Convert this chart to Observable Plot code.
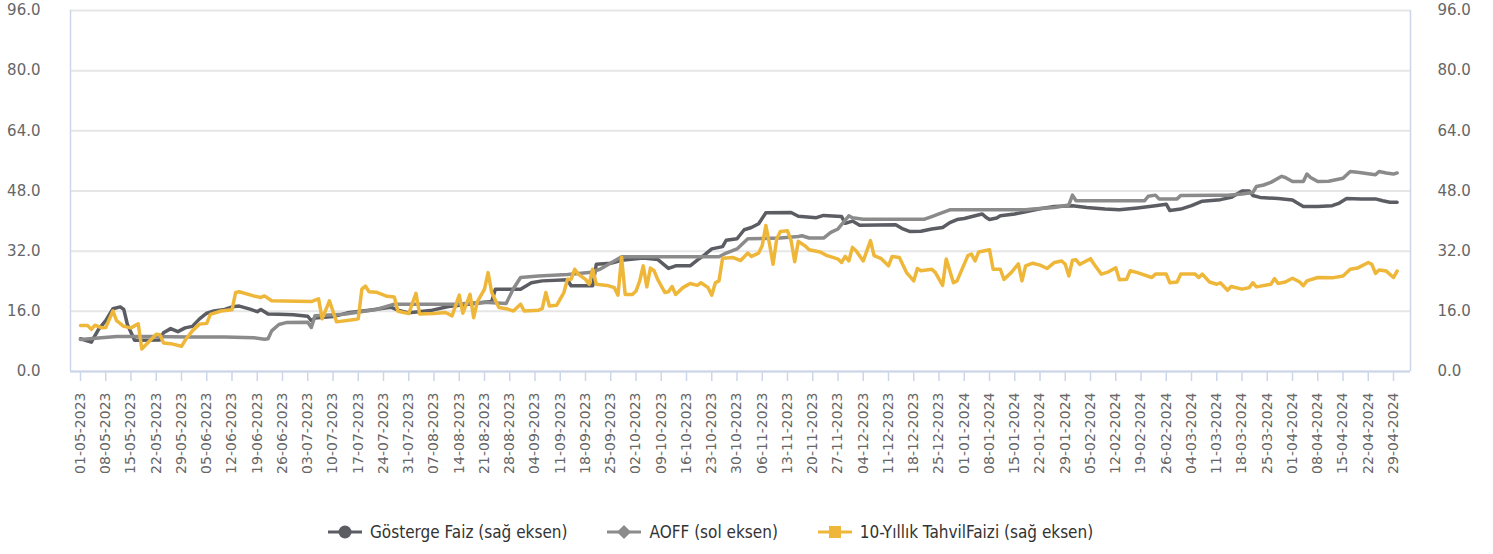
<!DOCTYPE html>
<html>
<head>
<meta charset="utf-8">
<script src="https://cdn.jsdelivr.net/npm/d3@7"></script>
<script src="https://cdn.jsdelivr.net/npm/@observablehq/plot@0.6"></script>
<style>
  html, body { margin: 0; padding: 0; background: #fff; }
  #legend { height: 44px; display: flex; align-items: center; padding-left: 328px;
            font-family: "DejaVu Sans Condensed", "DejaVu Sans", sans-serif; font-size: 17px; color: #333; }
  .item { display: flex; align-items: center; margin-right: 40px; white-space: nowrap; }
  .item svg { margin-right: 8px; }
</style>
</head>
<body>
<div id="chart"></div>
<div id="legend"></div>
<script>
// ---- Series names & colours ----
const seriesNames = ["Gösterge Faiz (sağ eksen)", "AOFF (sol eksen)", "10-Yıllık TahvilFaizi (sağ eksen)"];
const seriesColors = ["#5b5d63", "#8b8b8b", "#efb73a"];
const seriesSymbols = ["circle", "diamond", "square"];

// ---- Y tick labels ----
const yTicks = [0, 16, 32, 48, 64, 80, 96];

// ---- Gösterge Faiz (date, value) ----
const gostergeFaiz = [
  ["2023-05-01",8.7],["2023-05-04",7.8],["2023-05-06",11.2],["2023-05-08",13.5],["2023-05-10",16.7],
  ["2023-05-12",17.2],["2023-05-13",16.5],["2023-05-14",12.5],["2023-05-16",8.3],["2023-05-23",8.4],
  ["2023-05-24",10.3],["2023-05-26",11.4],["2023-05-28",10.6],["2023-05-30",11.6],["2023-06-01",12],
  ["2023-06-03",14],["2023-06-05",15.5],["2023-06-07",16.1],["2023-06-10",16.5],["2023-06-12",17.2],
  ["2023-06-14",17.4],["2023-06-17",16.6],["2023-06-19",15.9],["2023-06-20",16.5],["2023-06-22",15.3],
  ["2023-06-25",15.2],["2023-06-29",15.1],["2023-07-03",14.7],["2023-07-04",13.5],["2023-07-05",14.2],
  ["2023-07-10",14.6],["2023-07-14",15.6],["2023-07-20",16.3],["2023-07-26",17.1],["2023-07-28",16.3],
  ["2023-07-31",15.6],["2023-08-06",16.2],["2023-08-11",17.3],["2023-08-23",18.6],["2023-08-24",21.9],
  ["2023-08-31",21.9],["2023-09-03",23.6],["2023-09-06",24.1],["2023-09-13",24.4],["2023-09-14",22.8],
  ["2023-09-20",22.8],["2023-09-21",28.5],["2023-09-25",28.8],["2023-09-28",29.6],["2023-10-04",30.2],
  ["2023-10-08",29.8],["2023-10-11",27.4],["2023-10-13",28.1],["2023-10-17",28.1],["2023-10-19",29.6],
  ["2023-10-21",31],["2023-10-23",32.6],["2023-10-26",33.2],["2023-10-27",34.9],["2023-10-30",35.3],
  ["2023-11-01",37.7],["2023-11-03",38.3],["2023-11-05",39.3],["2023-11-07",42.2],["2023-11-14",42.3],
  ["2023-11-16",41.3],["2023-11-21",40.9],["2023-11-23",41.5],["2023-11-28",41.2],["2023-11-29",39.4],
  ["2023-12-01",40],["2023-12-03",38.9],["2023-12-13",39],["2023-12-15",37.9],["2023-12-17",37.2],
  ["2023-12-20",37.3],["2023-12-23",37.9],["2023-12-26",38.3],["2023-12-28",39.6],["2023-12-30",40.4],
  ["2024-01-01",40.7],["2024-01-04",41.4],["2024-01-06",41.9],["2024-01-07",41],["2024-01-08",40.4],
  ["2024-01-10",40.8],["2024-01-11",41.4],["2024-01-15",41.9],["2024-01-18",42.5],["2024-01-22",43.3],
  ["2024-01-26",43.9],["2024-01-31",44.1],["2024-02-04",43.6],["2024-02-09",43.2],["2024-02-13",43],
  ["2024-02-18",43.5],["2024-02-23",44.1],["2024-02-26",44.5],["2024-02-27",42.8],["2024-03-01",43.2],
  ["2024-03-04",44.1],["2024-03-07",45.3],["2024-03-12",45.7],["2024-03-15",46.3],["2024-03-18",48],
  ["2024-03-20",48],["2024-03-21",46.8],["2024-03-23",46.3],["2024-03-28",46],["2024-04-01",45.6],
  ["2024-04-02",45],["2024-04-04",43.9],["2024-04-08",43.9],["2024-04-12",44.1],["2024-04-14",44.8],
  ["2024-04-16",46],["2024-04-20",45.9],["2024-04-24",45.9],["2024-04-26",45.4],["2024-04-28",45],
  ["2024-04-30",45]
];

// ---- AOFF (date, value) ----
const aoff = [
  ["2023-05-01",8.5],["2023-05-06",8.9],["2023-05-11",9.3],["2023-05-21",9.3],["2023-05-31",9.2],
  ["2023-06-10",9.2],["2023-06-18",9.0],["2023-06-21",8.6],["2023-06-22",8.7],["2023-06-23",10.8],
  ["2023-06-25",12.5],["2023-06-27",13],["2023-07-03",13.1],["2023-07-04",11.7],["2023-07-05",14.8],
  ["2023-07-13",15.2],["2023-07-22",16.5],["2023-07-27",17.9],["2023-08-13",17.9],["2023-08-21",18.4],
  ["2023-08-27",18.1],["2023-08-29",22],["2023-08-31",25],["2023-09-05",25.4],["2023-09-13",25.8],
  ["2023-09-19",26.3],["2023-09-22",27.2],["2023-09-26",29.4],["2023-09-28",30.5],["2023-10-25",30.5],
  ["2023-10-27",31.5],["2023-10-30",32.6],["2023-11-02",35.3],["2023-11-11",35.5],["2023-11-16",35.9],
  ["2023-11-17",36.1],["2023-11-19",35.5],["2023-11-23",35.5],["2023-11-25",37],["2023-11-27",37.9],
  ["2023-11-30",41.4],["2023-12-01",40.9],["2023-12-04",40.5],["2023-12-21",40.5],["2023-12-23",41.2],
  ["2023-12-25",41.9],["2023-12-28",43],["2024-01-18",43],["2024-01-20",43.2],["2024-01-26",43.6],
  ["2024-01-30",44.3],["2024-01-31",46.9],["2024-02-01",45.4],["2024-02-20",45.4],["2024-02-21",46.6],
  ["2024-02-23",46.9],["2024-02-24",45.9],["2024-02-29",45.9],["2024-03-01",46.8],["2024-03-11",46.9],
  ["2024-03-14",46.9],["2024-03-18",47.2],["2024-03-21",47.6],["2024-03-22",49.2],["2024-03-24",49.6],
  ["2024-03-26",50.3],["2024-03-29",51.9],["2024-03-30",51.6],["2024-04-01",50.5],["2024-04-04",50.5],
  ["2024-04-05",52.5],["2024-04-06",51.6],["2024-04-08",50.5],["2024-04-11",50.6],["2024-04-15",51.4],
  ["2024-04-17",53.2],["2024-04-19",53],["2024-04-24",52.3],["2024-04-25",53.2],["2024-04-27",52.8],
  ["2024-04-29",52.5],["2024-04-30",52.8]
];

// ---- 10-Yıllık Tahvil Faizi (date, value) ----
const tahvilFaizi = [
  ["2023-05-01",12.2],["2023-05-03",12.2],["2023-05-04",11.2],["2023-05-05",12.3],["2023-05-07",11.6],
  ["2023-05-08",11.7],["2023-05-10",16.1],["2023-05-11",13.5],["2023-05-13",12],["2023-05-15",11.6],
  ["2023-05-17",12.7],["2023-05-18",6],["2023-05-20",8],["2023-05-22",9.9],["2023-05-23",9.8],
  ["2023-05-24",7.6],["2023-05-26",7.4],["2023-05-29",6.7],["2023-05-30",8.3],["2023-06-01",10.8],
  ["2023-06-03",12.6],["2023-06-05",12.8],["2023-06-06",15.2],["2023-06-09",16.1],["2023-06-12",16.4],
  ["2023-06-13",21],["2023-06-14",21.2],["2023-06-18",20.1],["2023-06-20",19.7],["2023-06-21",20.1],
  ["2023-06-23",18.8],["2023-06-30",18.7],["2023-07-04",18.6],["2023-07-06",19.3],["2023-07-07",14],
  ["2023-07-09",18.8],["2023-07-11",13.2],["2023-07-16",13.8],["2023-07-17",14],["2023-07-18",21.9],
  ["2023-07-19",22.7],["2023-07-20",21.2],["2023-07-22",21.1],["2023-07-25",20],["2023-07-27",19.8],
  ["2023-07-28",16],["2023-07-31",15.4],["2023-08-02",20.8],["2023-08-03",15.3],["2023-08-07",15.4],
  ["2023-08-10",15.7],["2023-08-11",15.3],["2023-08-12",14.8],["2023-08-14",20.3],["2023-08-15",15.5],
  ["2023-08-17",20.5],["2023-08-18",14.3],["2023-08-19",18.5],["2023-08-21",21.9],["2023-08-22",26.3],
  ["2023-08-23",21],["2023-08-25",17],["2023-08-27",16.7],["2023-08-29",16.1],["2023-08-31",17.9],
  ["2023-09-01",16.1],["2023-09-05",16.3],["2023-09-06",16.7],["2023-09-07",21],["2023-09-08",17.4],
  ["2023-09-10",17.6],["2023-09-12",21],["2023-09-13",24.5],["2023-09-14",24.5],["2023-09-15",27.2],
  ["2023-09-16",25.9],["2023-09-18",24.5],["2023-09-19",23.2],["2023-09-20",27.2],["2023-09-21",23.2],
  ["2023-09-24",22.9],["2023-09-26",22.3],["2023-09-27",20.3],["2023-09-28",30.4],["2023-09-29",20.5],
  ["2023-10-01",20.5],["2023-10-02",21.4],["2023-10-03",24],["2023-10-04",28.1],["2023-10-05",22.5],
  ["2023-10-06",27.5],["2023-10-07",26.8],["2023-10-08",24.5],["2023-10-10",21],["2023-10-11",21.2],
  ["2023-10-12",22.6],["2023-10-13",20.5],["2023-10-15",22.3],["2023-10-17",23.4],["2023-10-19",22.9],
  ["2023-10-20",23.6],["2023-10-22",22.3],["2023-10-23",20.3],["2023-10-24",23.6],["2023-10-25",24.1],
  ["2023-10-26",30.1],["2023-10-29",30.3],["2023-10-31",29.5],["2023-11-02",31.5],["2023-11-03",30.6],
  ["2023-11-05",31.5],["2023-11-06",33.5],["2023-11-07",38.8],["2023-11-08",34],["2023-11-09",28.5],
  ["2023-11-10",35.2],["2023-11-11",37.2],["2023-11-13",37.4],["2023-11-14",34.8],["2023-11-15",29.2],
  ["2023-11-16",34.6],["2023-11-18",33.3],["2023-11-19",32.4],["2023-11-22",31.8],["2023-11-24",30.8],
  ["2023-11-26",30.2],["2023-11-27",29.9],["2023-11-28",29],["2023-11-29",30.6],["2023-11-30",29.4],
  ["2023-12-01",33],["2023-12-02",32.1],["2023-12-04",29.4],["2023-12-06",34.8],["2023-12-07",30.8],
  ["2023-12-09",30],["2023-12-11",28.1],["2023-12-12",30.6],["2023-12-14",30.3],["2023-12-16",26.3],
  ["2023-12-18",24.1],["2023-12-19",27.4],["2023-12-20",26.8],["2023-12-23",27.2],["2023-12-24",26.3],
  ["2023-12-26",22.9],["2023-12-27",29.9],["2023-12-29",23.6],["2023-12-30",24.1],["2024-01-02",30.8],
  ["2024-01-03",31.2],["2024-01-04",29.4],["2024-01-05",31.8],["2024-01-08",32.4],["2024-01-09",27.2],
  ["2024-01-11",27.2],["2024-01-12",24.5],["2024-01-14",26.3],["2024-01-16",28.6],["2024-01-17",24.1],
  ["2024-01-18",28.1],["2024-01-20",28.8],["2024-01-22",28.3],["2024-01-24",27.4],["2024-01-26",29],
  ["2024-01-28",29.4],["2024-01-29",28.5],["2024-01-30",25.4],["2024-01-31",29.6],["2024-02-01",29.7],
  ["2024-02-02",28.5],["2024-02-05",30],["2024-02-06",28.5],["2024-02-08",25.9],["2024-02-10",26.5],
  ["2024-02-12",27.6],["2024-02-13",24.4],["2024-02-15",24.5],["2024-02-16",26.8],["2024-02-18",26.3],
  ["2024-02-22",25],["2024-02-23",25.9],["2024-02-26",25.9],["2024-02-27",23.6],["2024-02-29",23.8],
  ["2024-03-01",25.9],["2024-03-05",25.9],["2024-03-06",25],["2024-03-07",25.9],["2024-03-09",23.8],
  ["2024-03-11",23.2],["2024-03-12",23.6],["2024-03-14",21.6],["2024-03-15",22.6],["2024-03-18",21.9],
  ["2024-03-20",22.3],["2024-03-21",23.6],["2024-03-22",22.5],["2024-03-26",23.2],["2024-03-27",24.7],
  ["2024-03-28",23.4],["2024-03-30",23.8],["2024-04-01",24.8],["2024-04-03",23.8],["2024-04-04",22.8],
  ["2024-04-05",24.1],["2024-04-08",25],["2024-04-12",24.9],["2024-04-15",25.4],["2024-04-17",27.2],
  ["2024-04-19",27.5],["2024-04-22",29],["2024-04-23",28.5],["2024-04-24",26.1],["2024-04-25",27],
  ["2024-04-27",26.7],["2024-04-29",25],["2024-04-30",26.7]
];

// ---- X axis: first / last tick label, weekly ----
const firstTick = "2023-05-01";
const lastTick = "2024-04-29";

const parse = d3.utcParse("%Y-%m-%d");
const toRows = (arr, name) => arr.map(([d, v]) => ({date: parse(d), value: v, series: name}));
const rows = [
  ...toRows(gostergeFaiz, seriesNames[0]),
  ...toRows(aoff, seriesNames[1]),
  ...toRows(tahvilFaizi, seriesNames[2])
];

const t0 = parse(firstTick), t1 = parse(lastTick);
const xTicks = d3.utcDay.range(t0, d3.utcDay.offset(t1, 1), 7);
const xDomain = [new Date(+t0 - 2.77 * 864e5), new Date(+t1 + 4.71 * 864e5)];

const chart = Plot.plot({
  width: 1493,
  height: 510,
  marginLeft: 70,
  marginRight: 83,
  marginTop: 10,
  marginBottom: 139,
  style: {fontFamily: "DejaVu Sans, sans-serif", background: "#fff", color: "#666"},
  x: {type: "utc", domain: xDomain},
  y: {domain: [0, 96]},
  marks: [
    Plot.gridY(yTicks, {stroke: "#e6e6e6", strokeOpacity: 1, strokeWidth: 2}),
    Plot.ruleX(xDomain, {stroke: "#ccd6eb", strokeWidth: 1.5}),
    Plot.ruleY([0], {stroke: "#ccd6eb", strokeWidth: 2}),
    Plot.axisX(xTicks, {
      anchor: "bottom", tickRotate: -90, tickSize: 10, tickPadding: 11,
      tickFormat: d3.utcFormat("%d-%m-%Y"), stroke: "#ccd6eb", strokeWidth: 1.5,
      fill: "#666", fontSize: 14, label: null
    }),
    Plot.axisY(yTicks, {anchor: "left", tickSize: 0, tickPadding: 30, tickFormat: d3.format(".1f"), fill: "#666", fontSize: 15, label: null}),
    Plot.axisY(yTicks, {anchor: "right", tickSize: 0, tickPadding: 27, tickFormat: d3.format(".1f"), fill: "#666", fontSize: 15, label: null}),
    ...seriesNames.map((name, i) =>
      Plot.lineY(rows.filter(r => r.series === name), {
        x: "date", y: "value", stroke: seriesColors[i], strokeWidth: 3.5,
        strokeLinejoin: "round", strokeLinecap: "round"
      })
    )
  ]
});
document.getElementById("chart").appendChild(chart);

// ---- Legend ----
const legend = d3.select("#legend");
seriesNames.forEach((name, i) => {
  const item = legend.append("span").attr("class", "item");
  const svg = item.append("svg").attr("width", 34).attr("height", 16);
  svg.append("line").attr("x1", 0).attr("x2", 34).attr("y1", 8).attr("y2", 8)
    .attr("stroke", seriesColors[i]).attr("stroke-width", 3);
  if (seriesSymbols[i] === "circle") {
    svg.append("circle").attr("cx", 17).attr("cy", 8).attr("r", 6.5).attr("fill", seriesColors[i]);
  } else if (seriesSymbols[i] === "diamond") {
    svg.append("path").attr("d", "M17,1L24,8L17,15L10,8Z").attr("fill", seriesColors[i]);
  } else {
    svg.append("rect").attr("x", 11).attr("y", 2).attr("width", 12).attr("height", 12).attr("fill", seriesColors[i]);
  }
  item.append("span").text(name);
});
</script>
</body>
</html>
